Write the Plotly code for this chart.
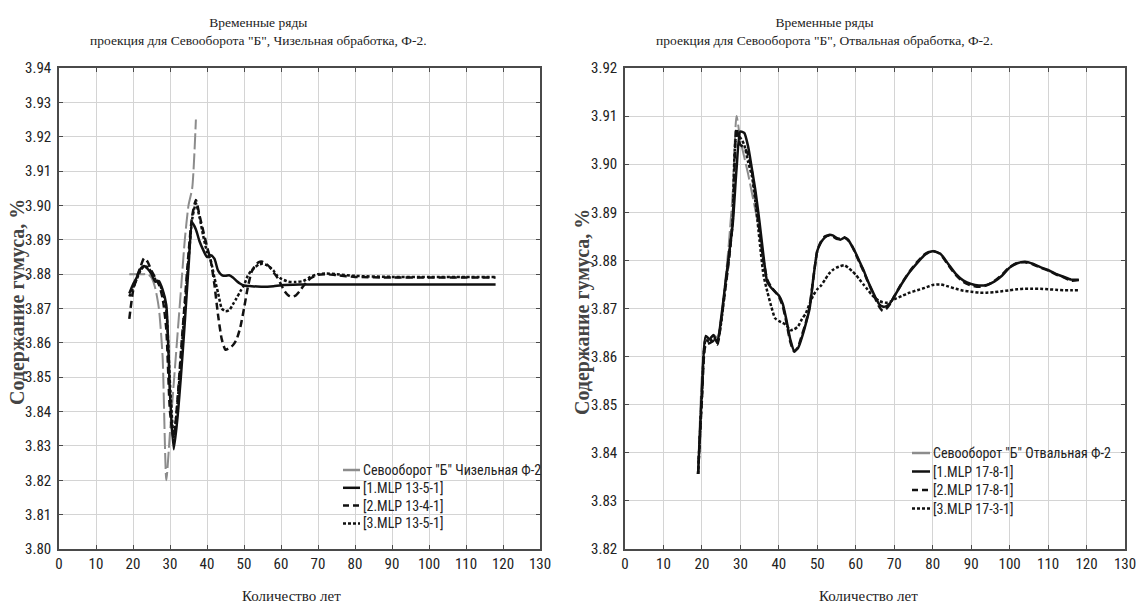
import plotly.graph_objects as go

# ---------------- data: left chart (Чизельная) ----------------
x_l_fact = [19, 20, 21, 22, 23, 24, 25, 26, 27, 28, 29, 30, 31, 32, 33, 34, 35, 36, 37]
y_l_fact = [3.880, 3.880, 3.880, 3.880, 3.880, 3.880, 3.879, 3.876, 3.870, 3.856, 3.820,
            3.834, 3.848, 3.862, 3.876, 3.890, 3.900, 3.905, 3.925]

x_l_m1 = [19, 20, 21, 22, 23, 24, 25, 26, 27, 28, 29, 30, 31, 32, 33, 34, 35, 36, 37, 38, 39, 40,
          41, 42, 43, 44, 45, 46, 47, 48, 49, 50, 52, 55, 58, 60, 65, 70, 80, 90, 100, 110, 118]
y_l_m1 = [3.8744, 3.8770, 3.8790, 3.8815, 3.8824, 3.8815, 3.8800, 3.8778, 3.8780, 3.8755, 3.8710,
          3.8450, 3.8290, 3.8380, 3.8510, 3.8660, 3.8820, 3.8950, 3.8930, 3.8895, 3.8870, 3.8850,
          3.8855, 3.8845, 3.8810, 3.8797, 3.8795, 3.8797, 3.8790, 3.8780, 3.8772, 3.8767, 3.8765,
          3.8763, 3.8765, 3.8768, 3.8770, 3.8770, 3.8770, 3.8770, 3.8770, 3.8770, 3.8770]

x_l_m2 = [19, 20, 21, 22, 23, 24, 25, 26, 27, 28, 29, 30, 31, 32, 33, 34, 35, 36, 37, 38, 39, 40,
          41, 42, 43, 44, 45, 46, 47, 48, 49, 50, 51, 52, 53, 54, 55, 56, 57, 58, 59, 60, 61, 62,
          63, 64, 65, 66, 67, 68, 70, 72, 75, 80, 90, 100, 110, 118]
y_l_m2 = [3.8670, 3.8750, 3.8790, 3.8820, 3.8846, 3.8835, 3.8810, 3.8790, 3.8770, 3.8730, 3.8640,
          3.8400, 3.8320, 3.8430, 3.8580, 3.8720, 3.8860, 3.8970, 3.9016, 3.8970, 3.8925, 3.8880,
          3.8840, 3.8770, 3.8680, 3.8610, 3.8580, 3.8585, 3.8593, 3.8610, 3.8645, 3.8700, 3.8760,
          3.8805, 3.8825, 3.8835, 3.8836, 3.8830, 3.8820, 3.8805, 3.8790, 3.8770, 3.8750, 3.8738,
          3.8734, 3.8738, 3.8750, 3.8765, 3.8778, 3.8788, 3.8798, 3.8800, 3.8797, 3.8792, 3.8790,
          3.8790, 3.8790, 3.8790]

x_l_m3 = [19, 20, 21, 22, 23, 24, 25, 26, 27, 28, 29, 30, 31, 32, 33, 34, 35, 36, 37, 38, 39, 40,
          41, 42, 43, 44, 45, 46, 47, 48, 49, 50, 51, 52, 53, 54, 55, 56, 57, 58, 59, 60, 62, 64,
          66, 68, 70, 72, 75, 80, 90, 100, 110, 118]
y_l_m3 = [3.8735, 3.8760, 3.8785, 3.8810, 3.8822, 3.8820, 3.8805, 3.8785, 3.8775, 3.8750, 3.8695,
          3.8480, 3.8327, 3.8420, 3.8560, 3.8700, 3.8840, 3.8960, 3.9006, 3.8965, 3.8910, 3.8865,
          3.8840, 3.8790, 3.8745, 3.8700, 3.8692, 3.8695, 3.8712, 3.8730, 3.8750, 3.8768, 3.8795,
          3.8810, 3.8820, 3.8828, 3.8830, 3.8827, 3.8820, 3.8810, 3.8795, 3.8787, 3.8778, 3.8777,
          3.8780, 3.8792, 3.8800, 3.8802, 3.8800, 3.8795, 3.8792, 3.8792, 3.8792, 3.8792]

# ---------------- data: right chart (Отвальная) ----------------
x_r_fact = [19, 20, 21, 22, 23, 24, 25, 26, 27, 28, 29, 30, 31, 32, 33, 34, 35, 36]
y_r_fact = [3.8360, 3.8560, 3.8640, 3.8638, 3.8645, 3.8640, 3.8675, 3.8750, 3.8835, 3.8940,
            3.9100, 3.9050, 3.9015, 3.8980, 3.8940, 3.8900, 3.8860, 3.8790]

x_r = [19, 20, 21, 22, 23, 24, 25, 26, 27, 28, 29, 30, 31, 32, 33, 34, 35, 36, 37, 38, 39, 40,
       41, 42, 43, 44, 45, 46, 47, 48, 49, 50, 51, 52, 53, 54, 55, 56, 57, 58, 59, 60, 61, 62,
       63, 64, 65, 66, 67, 68, 69, 70, 72, 74, 76, 78, 80, 82, 84, 86, 88, 90, 92, 94, 96, 98,
       100, 102, 104, 106, 108, 110, 112, 114, 116, 118]
y_r_m1 = [3.8356, 3.8530, 3.8643, 3.8636, 3.8645, 3.8628, 3.8680, 3.8745, 3.8810, 3.8875, 3.8990,
          3.9068, 3.9065, 3.9037, 3.8990, 3.8940, 3.8878, 3.8810, 3.8755, 3.8743, 3.8735, 3.8727,
          3.8710, 3.8675, 3.8635, 3.8612, 3.8618, 3.8640, 3.8668, 3.8700, 3.8765, 3.8820, 3.8838,
          3.8848, 3.8853, 3.8852, 3.8847, 3.8843, 3.8847, 3.8843, 3.8830, 3.8815, 3.8797, 3.8780,
          3.8760, 3.8742, 3.8725, 3.8710, 3.8704, 3.8705, 3.8712, 3.8725, 3.8752, 3.8776, 3.8795,
          3.8812, 3.8819, 3.8814, 3.8793, 3.8772, 3.8758, 3.8751, 3.8748, 3.8749, 3.8756, 3.8768,
          3.8785, 3.8794, 3.8797, 3.8793, 3.8786, 3.8780, 3.8772, 3.8766, 3.8760, 3.8760]
y_r_m2 = [3.8356, 3.8510, 3.8625, 3.8628, 3.8632, 3.8625, 3.8675, 3.8735, 3.8800, 3.8880, 3.9075,
          3.9040, 3.9035, 3.9020, 3.8985, 3.8925, 3.8860, 3.8800, 3.8760, 3.8745, 3.8735, 3.8725,
          3.8705, 3.8670, 3.8630, 3.8610, 3.8620, 3.8645, 3.8670, 3.8705, 3.8765, 3.8820, 3.8840,
          3.8850, 3.8852, 3.8850, 3.8845, 3.8845, 3.8848, 3.8842, 3.8830, 3.8813, 3.8795, 3.8778,
          3.8758, 3.8740, 3.8722, 3.8705, 3.8695, 3.8700, 3.8710, 3.8725, 3.8753, 3.8777, 3.8797,
          3.8813, 3.8820, 3.8813, 3.8791, 3.8770, 3.8755, 3.8748, 3.8745, 3.8748, 3.8757, 3.8770,
          3.8786, 3.8795, 3.8796, 3.8792, 3.8785, 3.8779, 3.8771, 3.8765, 3.8758, 3.8759]
y_r_m3 = [3.8356, 3.8520, 3.8635, 3.8630, 3.8638, 3.8632, 3.8670, 3.8740, 3.8805, 3.8885, 3.9060,
          3.9055, 3.9040, 3.9005, 3.8975, 3.8915, 3.8840, 3.8770, 3.8735, 3.8705, 3.8680, 3.8674,
          3.8670, 3.8665, 3.8655, 3.8657, 3.8663, 3.8678, 3.8690, 3.8710, 3.8728, 3.8740, 3.8748,
          3.8760, 3.8772, 3.8780, 3.8785, 3.8788, 3.8790, 3.8785, 3.8778, 3.8770, 3.8760, 3.8750,
          3.8740, 3.8730, 3.8722, 3.8716, 3.8713, 3.8712, 3.8714, 3.8719, 3.8726, 3.8733, 3.8738,
          3.8743, 3.8749, 3.8750, 3.8746, 3.8741, 3.8737, 3.8735, 3.8733, 3.8733, 3.8734, 3.8736,
          3.8738, 3.8740, 3.8741, 3.8741, 3.8741, 3.8740, 3.8739, 3.8738, 3.8738, 3.8738]

names_left = ['Севооборот "Б" Чизельная Ф-2', '[1.MLP 13-5-1]', '[2.MLP 13-4-1]', '[3.MLP 13-5-1]']
names_right = ['Севооборот "Б" Отвальная Ф-2', '[1.MLP 17-8-1]', '[2.MLP 17-8-1]', '[3.MLP 17-3-1]']
title_left = 'Временные ряды<br>проекция для Севооборота "Б", Чизельная обработка, Ф-2.'
title_right = 'Временные ряды<br>проекция для Севооборота "Б", Отвальная обработка, Ф-2.'
x_title = 'Количество лет'
y_title = 'Содержание гумуса, %'

# ---------------- styles ----------------
W, H = 1136, 610
NARROW = "Liberation Sans Narrow, Arial Narrow, Roboto Condensed, Liberation Sans, sans-serif"
SERIF = "Liberation Serif, Times New Roman, DejaVu Serif, serif"
styles = [
    dict(color="#8c8c8c", width=2, dash="16px,4px"),
    dict(color="#111111", width=2.5, dash="solid"),
    dict(color="#111111", width=2.5, dash="7px,4px"),
    dict(color="#111111", width=2.5, dash="3px,2px"),
]
legend_dash = ["solid", "solid", "6px,4px", "3px,2px"]

fig = go.Figure()
left_sets = [(x_l_fact, y_l_fact), (x_l_m1, y_l_m1), (x_l_m2, y_l_m2), (x_l_m3, y_l_m3)]
right_sets = [(x_r_fact, y_r_fact), (x_r, y_r_m1), (x_r, y_r_m2), (x_r, y_r_m3)]

for (xs, ys), nm, st in zip(left_sets, names_left, styles):
    fig.add_trace(go.Scatter(x=xs, y=ys, mode="lines", name=nm, showlegend=False,
                             line=dict(shape="spline", smoothing=0.6, **st), xaxis="x", yaxis="y"))
for (xs, ys), nm, st in zip(right_sets, names_right, styles):
    fig.add_trace(go.Scatter(x=xs, y=ys, mode="lines", name=nm, showlegend=False,
                             line=dict(shape="spline", smoothing=0.6, **st), xaxis="x2", yaxis="y2"))

axis_common = dict(showline=True, mirror="ticks", linecolor="#4a4a4a", linewidth=1.5,
                   ticks="inside", ticklen=4, tickcolor="#4a4a4a", tickwidth=1,
                   showgrid=True, gridcolor="#d4d4d4", gridwidth=1, zeroline=False, automargin=False,
                   ticklabeloverflow="allow",
                   tickfont=dict(family=NARROW, size=15, color="#222222"))

plot_h = H - 68 - 61
def py(p):
    return (H - 61 - p) / plot_h

fig.update_layout(
    width=W, height=H,
    margin=dict(l=0, r=0, t=68, b=61, autoexpand=False),
    paper_bgcolor="white", plot_bgcolor="white",
    showlegend=False,
    xaxis=dict(domain=[59 / W, 540 / W], range=[0, 130], dtick=10, tick0=0, anchor="y", **axis_common),
    yaxis=dict(domain=[0, 1], range=[3.80, 3.94], dtick=0.01, tick0=3.80, tickformat=".2f", anchor="x",
               ticklabelstandoff=3, **axis_common),
    xaxis2=dict(domain=[625 / W, 1125 / W], range=[0, 130], dtick=10, tick0=0, anchor="y2", **axis_common),
    yaxis2=dict(domain=[0, 1], range=[3.82, 3.92], dtick=0.01, tick0=3.82, tickformat=".2f", anchor="x2",
                ticklabelstandoff=3, **axis_common),
)

ann = []
shapes = []
# legends drawn as line samples + text
for names, (lx0, lx1, ty0, step) in [(names_left, (343, 360, 470, 17.8)), (names_right, (912, 930, 453, 18.5))]:
    for i, nm in enumerate(names):
        yy = py(ty0 + i * step)
        shapes.append(dict(type="line", xref="paper", yref="paper", x0=lx0 / W, x1=lx1 / W, y0=yy, y1=yy,
                           line=dict(color=styles[i]["color"], width=2.5, dash=legend_dash[i])))
        ann.append(dict(text=nm, x=(lx1 + 1) / W, y=yy, xref="paper", yref="paper", showarrow=False,
                        font=dict(family=NARROW, size=14, color="#222222"), xanchor="left", yanchor="middle"))

ann.append(dict(text=title_left, x=258 / W, y=py(31), xref="paper", yref="paper", showarrow=False,
                font=dict(family=SERIF, size=13.5, color="#222222"), xanchor="center", yanchor="middle"))
ann.append(dict(text=title_right, x=825 / W, y=py(31), xref="paper", yref="paper", showarrow=False,
                font=dict(family=SERIF, size=13.5, color="#222222"), xanchor="center", yanchor="middle"))
ann.append(dict(text=x_title, x=291 / W, y=py(596), xref="paper", yref="paper", showarrow=False,
                font=dict(family=SERIF, size=15, color="#222222"), xanchor="center", yanchor="middle"))
ann.append(dict(text=x_title, x=868 / W, y=py(596), xref="paper", yref="paper", showarrow=False,
                font=dict(family=SERIF, size=15, color="#222222"), xanchor="center", yanchor="middle"))
ann.append(dict(text="<b>" + y_title + "</b>", x=17 / W, y=py(302), xref="paper", yref="paper", showarrow=False,
                textangle=-90, font=dict(family=SERIF, size=20, color="#444444"), xanchor="center", yanchor="middle"))
ann.append(dict(text="<b>" + y_title + "</b>", x=582 / W, y=py(312), xref="paper", yref="paper", showarrow=False,
                textangle=-90, font=dict(family=SERIF, size=20, color="#444444"), xanchor="center", yanchor="middle"))
fig.update_layout(annotations=ann, shapes=shapes)

fig.write_html("out.html", config={"displayModeBar": False},
               post_script="document.body.style.margin='0';document.body.style.padding='0';")
